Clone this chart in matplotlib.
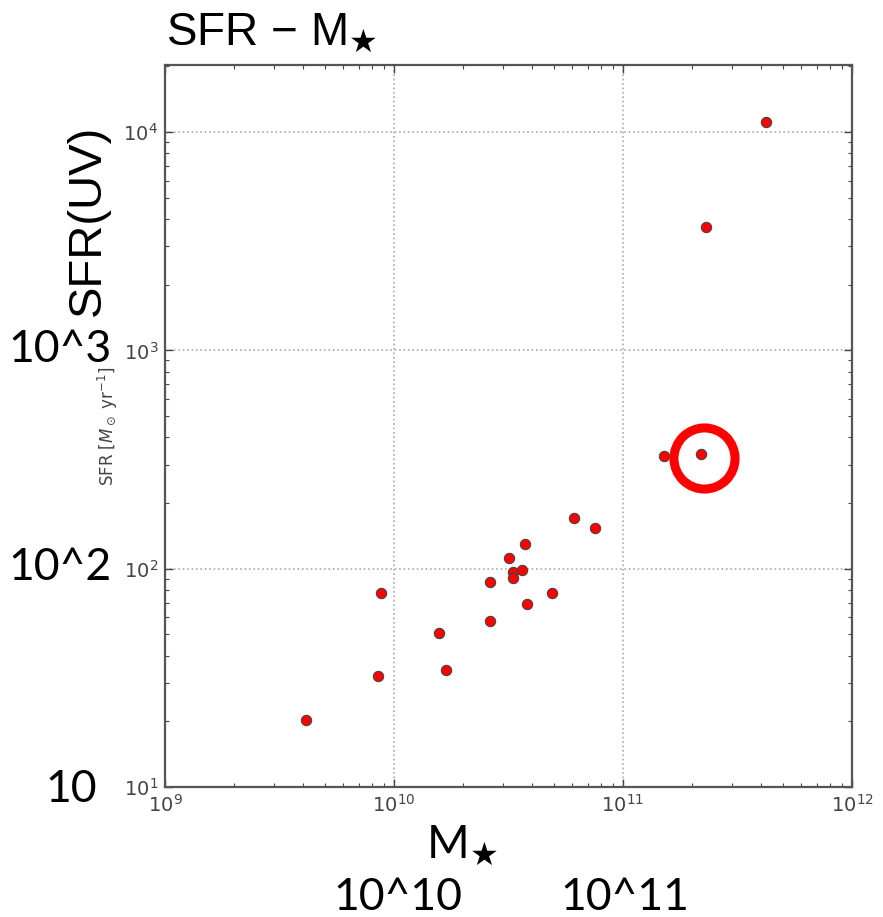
import numpy as np
import matplotlib
matplotlib.use("Agg")
import matplotlib.pyplot as plt

# stellar mass [M_sun] and UV star formation rate [M_sun / yr]
mstar = [4.13e9, 8.52e9, 8.77e9, 1.57e10, 1.69e10, 2.62e10, 2.62e10,
         3.18e10, 3.30e10, 3.30e10, 3.62e10, 3.73e10, 3.81e10, 4.90e10,
         6.11e10, 7.55e10, 1.51e11, 2.19e11, 2.30e11, 4.21e11]
sfr = [20.3, 32.2, 77.3, 50.7, 34.3, 57.5, 86.7,
       111.6, 96.6, 90.7, 98.4, 129.4, 68.9, 77.3,
       170, 153, 327, 334, 3690, 11170]

# circled object
highlight_m = 2.26e11
highlight_sfr = 321

fig = plt.figure(figsize=(8.83, 9.17), dpi=100)
ax = fig.add_axes([165 / 883, 1 - 787 / 917, 687 / 883, 722 / 917])

ax.scatter(mstar, sfr, s=55, c="red", edgecolors="#444444", linewidths=0.8, zorder=3)
ax.plot([highlight_m], [highlight_sfr], "o", ms=44, mfc="none", mec="red", mew=6.5, zorder=4)

ax.set_xscale("log")
ax.set_yscale("log")
ax.set_xlim(1e9, 1e12)
ax.set_ylim(1e1, 2.03e4)
ax.grid(True, which="major", linestyle=":", color="#aaaaaa", linewidth=1.2)
ax.tick_params(which="both", direction="in", top=True, right=True, colors="#444444",
               labelsize=14, labelcolor="#444444")
ax.tick_params(which="major", length=6, width=1, pad=5)
ax.tick_params(which="minor", length=3, width=0.8)
for sp in ax.spines.values():
    sp.set_color("#555555")
    sp.set_linewidth(1.6)

plt.rcParams["mathtext.fontset"] = "cm"
ax.set_ylabel(r"SFR $[M_\odot\ \mathrm{yr}^{-1}]$", fontsize=12, color="#444444", labelpad=2)

# large annotations around the axes
big = ["Lato", "DejaVu Sans"]
sans = ["Liberation Sans", "DejaVu Sans"]
plt.rcParams["mathtext.fontset"] = "dejavusans"
fig.text(166 / 883, 1 - 33 / 917, r"SFR − M$_\bigstar$", fontsize=33,
         family=sans, va="center", ha="left")
fig.text(88 / 883, 1 - 220 / 917, "SFR(UV)", fontsize=34, rotation=90,
         family=sans, va="center", ha="center")
fig.text(8 / 883, 1 - 349 / 917, "10^3", fontsize=32, family=big, va="center", ha="left")
fig.text(8 / 883, 1 - 567 / 917, "10^2", fontsize=32, family=big, va="center", ha="left")
fig.text(45 / 883, 1 - 789 / 917, "10", fontsize=32, family=big, va="center", ha="left")
fig.text(426 / 883, 1 - 846 / 917, r"M$_\bigstar$", fontsize=33, family=big, va="center", ha="left")
fig.text(333 / 883, 1 - 897 / 917, "10^10", fontsize=32, family=big, va="center", ha="left")
fig.text(560 / 883, 1 - 897 / 917, "10^11", fontsize=32, family=big, va="center", ha="left")

fig.savefig("out.png", dpi=100)
plt.close(fig)
